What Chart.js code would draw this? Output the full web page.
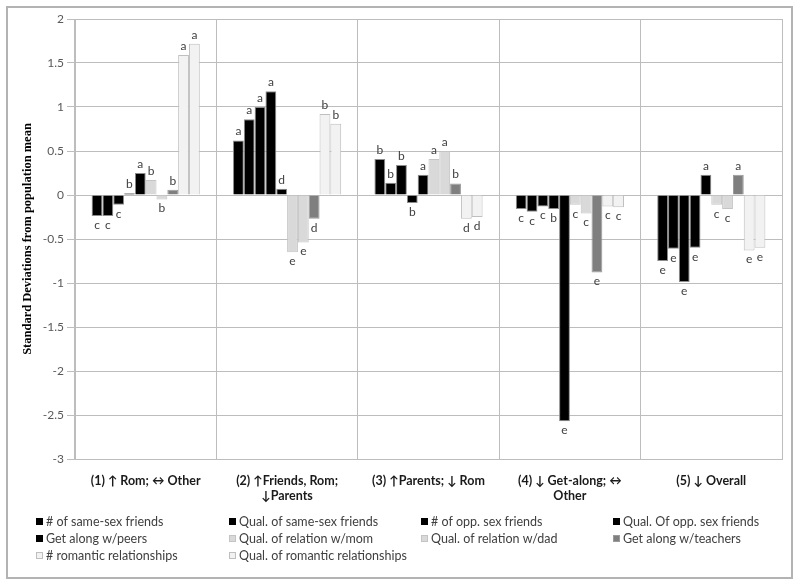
<!DOCTYPE html>
<html>
<head>
<meta charset="utf-8">
<script src="https://cdn.jsdelivr.net/npm/chart.js@4"></script>
<style>
  body { margin: 0; background: #fff; }
</style>
</head>
<body>
<canvas id="chart" width="800" height="586"></canvas>
<script>
// categories (cluster profiles)
const categories = [
    ['(1) ↑ Rom; ↔ Other'],
    ['(2) ↑Friends, Rom;', '↓Parents'],
    ['(3) ↑Parents; ↓ Rom'],
    ['(4) ↓ Get-along; ↔', 'Other'],
    ['(5) ↓ Overall'],
];

const seriesNames = [
    '# of same-sex friends', 'Qual. of same-sex friends', '# of opp. sex friends', 'Qual. Of opp. sex friends',
    'Get along w/peers', 'Qual. of relation w/mom', 'Qual. of relation w/dad', 'Get along w/teachers',
    '# romantic relationships', 'Qual. of romantic relationships',
];

// values per series, one per category
const sameSexNum  = [-0.24, 0.62, 0.41, -0.16, -0.75];
const sameSexQual = [-0.24, 0.86, 0.14, -0.19, -0.61];
const oppSexNum   = [-0.11, 1.00, 0.34, -0.13, -0.99];
const oppSexQual  = [0.02, 1.18, -0.09, -0.16, -0.60];
const peers       = [0.25, 0.07, 0.23, -2.57, 0.23];
const mom         = [0.17, -0.65, 0.41, -0.11, -0.11];
const dad         = [-0.05, -0.54, 0.50, -0.21, -0.16];
const teachers    = [0.06, -0.27, 0.13, -0.88, 0.23];
const romNum      = [1.59, 0.92, -0.27, -0.13, -0.63];
const romQual     = [1.72, 0.81, -0.25, -0.14, -0.60];

// significance letters per series
const sameSexNumL  = ['c', 'a', 'b', 'c', 'e'];
const sameSexQualL = ['c', 'a', 'b', 'c', 'e'];
const oppSexNumL   = ['c', 'a', 'b', 'c', 'e'];
const oppSexQualL  = ['b', 'a', 'b', 'b', 'e'];
const peersL       = ['a', 'd', 'a', 'e', 'a'];
const momL         = ['b', 'e', 'a', 'c', 'c'];
const dadL         = ['b', 'e', 'a', 'c', 'c'];
const teachersL    = ['b', 'd', 'b', 'e', 'a'];
const romNumL      = ['a', 'b', 'd', 'c', 'e'];
const romQualL     = ['a', 'b', 'd', 'c', 'e'];

const yTicks = [2, 1.5, 1, 0.5, 0, -0.5, -1, -1.5, -2, -2.5, -3];

const values = [sameSexNum, sameSexQual, oppSexNum, oppSexQual, peers, mom, dad, teachers, romNum, romQual];
const letters = [sameSexNumL, sameSexQualL, oppSexNumL, oppSexQualL, peersL, momL, dadL, teachersL, romNumL, romQualL];
const fills = ['#000000', '#000000', '#000000', '#000000', '#000000', '#d9d9d9', '#d9d9d9', '#7f7f7f', '#f2f2f2', '#f2f2f2'];
const borders = ['#8c8c8c', '#8c8c8c', '#8c8c8c', '#8c8c8c', '#8c8c8c', '#c4c4c4', '#c4c4c4', '#9a9a9a', '#bfbfbf', '#bfbfbf'];

const datasets = values.map((v, i) => ({
    label: seriesNames[i],
    data: v,
    backgroundColor: fills[i],
    borderColor: borders[i],
    borderWidth: 1,
    letters: letters[i],
}));

const frame = {
    id: 'frame',
    beforeDraw(chart) {
        const ctx = chart.ctx;
        ctx.save();
        ctx.fillStyle = '#fff';
        ctx.fillRect(0, 0, chart.width, chart.height);
        ctx.strokeStyle = '#b3b3b3';
        ctx.lineWidth = 2;
        ctx.strokeRect(7, 7, 785, 571);
        ctx.restore();
    },
};

const barLetters = {
    id: 'barLetters',
    afterDatasetsDraw(chart) {
        const ctx = chart.ctx;
        ctx.save();
        ctx.font = '12px Lato, "DejaVu Sans", sans-serif';
        ctx.fillStyle = '#404040';
        ctx.textAlign = 'center';
        chart.data.datasets.forEach((ds, i) => {
            chart.getDatasetMeta(i).data.forEach((el, j) => {
                const v = ds.data[j];
                if (v >= 0) {
                    ctx.textBaseline = 'bottom';
                    ctx.fillText(ds.letters[j], el.x, el.y - 3);
                } else {
                    ctx.textBaseline = 'top';
                    ctx.fillText(ds.letters[j], el.x, el.y + 3);
                }
            });
        });
        ctx.restore();
    },
};

const gridLegend = {
    id: 'gridLegend',
    afterDraw(chart) {
        const ctx = chart.ctx;
        const cols = [36, 229, 421, 613];
        const rows = [522, 539, 556];
        ctx.save();
        ctx.font = '12.5px Lato, "DejaVu Sans", sans-serif';
        ctx.textBaseline = 'middle';
        ctx.textAlign = 'left';
        chart.data.datasets.forEach((ds, i) => {
            const x = cols[i % 4];
            const y = rows[Math.floor(i / 4)];
            ctx.fillStyle = ds.backgroundColor;
            ctx.fillRect(x, y - 4, 7, 7);
            if (i >= 5) {
                ctx.strokeStyle = ds.borderColor;
                ctx.lineWidth = 1;
                ctx.strokeRect(x + 0.5, y - 3.5, 6, 6);
            }
            ctx.fillStyle = '#404040';
            ctx.fillText(ds.label, x + 10, y);
        });
        ctx.restore();
    },
};

new Chart(document.getElementById('chart'), {
    type: 'bar',
    data: {
        labels: categories,
        datasets: datasets,
    },
    options: {
        responsive: false,
        animation: false,
        layout: { padding: { left: 0, right: 18, top: 19, bottom: 0 } },
        datasets: {
            bar: { barPercentage: 1, categoryPercentage: 0.765 },
        },
        plugins: {
            legend: { display: false },
            tooltip: { enabled: false },
        },
        scales: {
            x: {
                grid: { color: '#bdbdbd', drawTicks: false, offset: true },
                border: { color: '#bdbdbd' },
                ticks: {
                    color: '#1a1a1a',
                    padding: 14,
                    maxRotation: 0,
                    autoSkip: false,
                    font: { family: 'Lato, "DejaVu Sans", sans-serif', size: 12.5, weight: 'bold', lineHeight: 1.25 },
                },
                afterFit(scale) { scale.height = 127; },
            },
            y: {
                min: -3,
                max: 2,
                afterBuildTicks(scale) { scale.ticks = yTicks.map(v => ({ value: v })); },
                grid: { color: '#bdbdbd', tickLength: 8 },
                border: { color: '#bdbdbd' },
                ticks: {
                    color: '#595959',
                    padding: 3,
                    callback: v => String(v),
                    font: { family: 'Lato, "DejaVu Sans", sans-serif', size: 12 },
                },
                title: {
                    display: true,
                    text: 'Standard Deviations from population mean',
                    color: '#000',
                    padding: { top: 20, bottom: 0 },
                    font: { family: '"Liberation Serif", serif', size: 12.5, weight: 'bold' },
                },
                afterFit(scale) { scale.width = 75; },
            },
        },
    },
    plugins: [frame, barLetters, gridLegend],
});
</script>
</body>
</html>
